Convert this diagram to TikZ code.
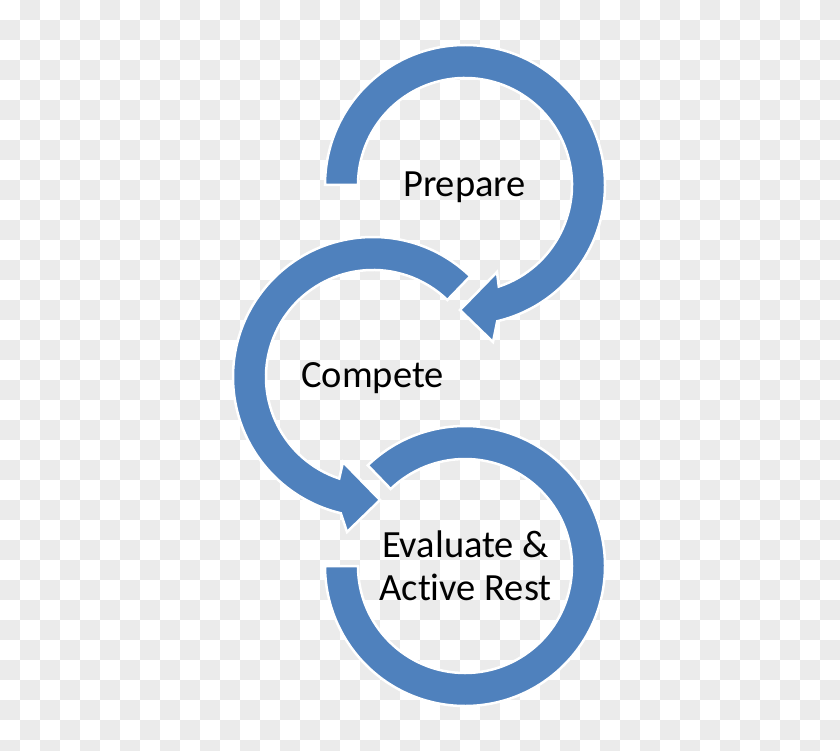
\documentclass[tikz,border=0pt]{standalone}
\usepackage{fontspec}
\setmainfont{Carlito}[RawFeature=-liga]
\definecolor{ringblue}{HTML}{4F81BD}
\definecolor{chkgrey}{HTML}{EBEBEB}
\tikzset{
  ring/.style={fill=ringblue, draw=white, line width=2.5pt, line join=miter},
  lbl/.style={inner sep=0pt, text=black, font=\fontsize{38.5}{43}\selectfont, anchor=base}
}
\begin{document}
\begin{tikzpicture}[x=1pt,y=-1pt]
\useasboundingbox (0,0) rectangle (840,751);
% transparency checkerboard background
\begin{scope}
\clip (0,0) rectangle (840,751);
\fill[white] (0,0) rectangle (840,751);
\foreach \i in {0,...,41}{
  \foreach \j in {0,...,37}{
    \pgfmathtruncatemacro\chk{mod(\i+\j,2)}
    \ifnum\chk=1 \fill[chkgrey] (\i*20,\j*20) rectangle ++(20,20);\fi
  }
}
\end{scope}
% ring 1 : Prepare
\begin{scope}[shift={(465,185)}]
\path[ring] (180:140) arc[start angle=180, end angle=436.7, radius=140]
  -- (28,157) -- (-5,125) -- (32,87)
  -- (431.6:107) arc[start angle=431.6, end angle=180, radius=107] -- cycle;
\end{scope}
% ring 2 : Compete
\begin{scope}[shift={(373,377)}]
\path[ring] (314:140) arc[start angle=314, end angle=103.3, radius=140]
  -- (-26,155) -- (7,123) -- (-30,85)
  -- (108.4:107) arc[start angle=108.4, end angle=314, radius=107] -- cycle;
\end{scope}
% ring 3 : Evaluate & Active Rest
\begin{scope}[shift={(465,566)}]
\path[ring] (226:140) arc[start angle=226, end angle=540, radius=140]
  -- (540:107) arc[start angle=540, end angle=226, radius=107] -- cycle;
\end{scope}
% labels
\node[lbl] (prep) at (464.5,197) {Prepare};
\node[lbl] (comp) at (372.5,387) {Compete};
\node[lbl] (evalA) at (465.5,557) {Evaluate \&};
\node[lbl] (evalB) at (465.5,600) {Active Rest};
\end{tikzpicture}
\end{document}
